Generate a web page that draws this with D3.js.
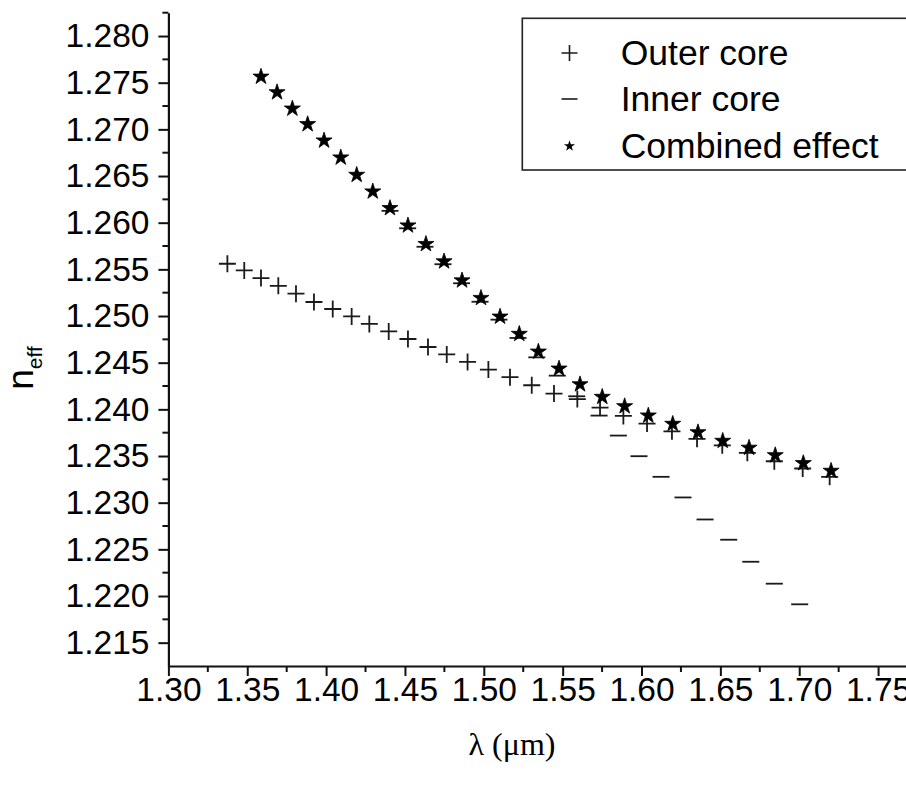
<!DOCTYPE html>
<html>
<head>
<meta charset="utf-8">
<script src="https://cdn.jsdelivr.net/npm/d3@7"></script>
<style>
  html, body { margin: 0; padding: 0; background: #fff; }
  svg { display: block; }
</style>
</head>
<body>
<svg id="chart" width="906" height="787"></svg>
<script>
// ---------- data ----------
const outerX = [1.3374,1.3481,1.3587,1.3697,1.3809,1.3923,1.4042,1.4162,1.4274,1.4397,1.4519,1.4646,1.4765,1.4897,1.5029,1.5166,1.5304,1.5445,1.5593,1.5737,1.5885,1.6035,1.6193,1.6352,1.6512,1.6671,1.6842,1.7022,1.7193];
const outerY = [1.25560,1.25488,1.25407,1.25324,1.25239,1.25150,1.25075,1.24996,1.24915,1.24835,1.24754,1.24668,1.24589,1.24508,1.24426,1.24345,1.24258,1.24169,1.24110,1.24019,1.23930,1.23848,1.23765,1.23684,1.23615,1.23534,1.23444,1.23366,1.23277];

const innerX = [1.4405,1.4517,1.4627,1.4741,1.4859,1.4976,1.5096,1.5217,1.5336,1.5466,1.5589,1.5731,1.5853,1.5984,1.6124,1.6263,1.6403,1.6553,1.6693,1.6842,1.7003];
const innerY = [1.26127,1.25940,1.25742,1.25555,1.25351,1.25153,1.24961,1.24765,1.24557,1.24361,1.24140,1.23933,1.23719,1.23498,1.23277,1.23056,1.22820,1.22603,1.22367,1.22132,1.21911];

const combX = [1.3587,1.3689,1.3786,1.3883,1.3987,1.4093,1.4194,1.4296,1.4405,1.4519,1.4633,1.4748,1.4862,1.4982,1.5103,1.5225,1.5346,1.5477,1.5610,1.5751,1.5893,1.6043,1.6198,1.6358,1.6515,1.6682,1.6848,1.7026,1.7202];
const combY = [1.27564,1.27397,1.27222,1.27055,1.26880,1.26698,1.26512,1.26334,1.26156,1.25970,1.25771,1.25585,1.25381,1.25193,1.24993,1.24808,1.24618,1.24436,1.24268,1.24133,1.24033,1.23933,1.23844,1.23754,1.23662,1.23588,1.23508,1.23423,1.23341];

const xTicks = [1.30,1.35,1.40,1.45,1.50,1.55,1.60,1.65,1.70,1.75];
const yTicks = [1.215,1.220,1.225,1.230,1.235,1.240,1.245,1.250,1.255,1.260,1.265,1.270,1.275,1.280];
const legendLabels = ["Outer core","Inner core","Combined effect"];

// ---------- chart ----------
const svg = d3.select("#chart");
const x = d3.scaleLinear().domain([1.30, 1.775]).range([168.4, 917.5]);
const y = d3.scaleLinear().domain([1.2125, 1.2825]).range([666, 12.7]);

const font = "'Liberation Sans', Arial, sans-serif";
const ink = "#111";

const xMinor = d3.range(1.325, 1.776, 0.05);
const yMinor = d3.range(1.2175, 1.283, 0.005);

const gx = svg.append("g").attr("transform", "translate(0,666)");
gx.call(d3.axisBottom(x).tickValues(xTicks).tickFormat(d3.format(".2f")).tickSize(10).tickPadding(1).tickSizeOuter(0));
gx.append("g").selectAll("line").data(xMinor).join("line")
  .attr("x1", d => x(d)).attr("x2", d => x(d)).attr("y1", 0).attr("y2", 6)
  .attr("stroke", ink).attr("stroke-width", 2);

const gy = svg.append("g").attr("transform", "translate(168.4,0)");
gy.call(d3.axisLeft(y).tickValues(yTicks).tickFormat(d3.format(".3f")).tickSize(10).tickPadding(9).tickSizeOuter(0));
gy.append("g").selectAll("line").data(yMinor).join("line")
  .attr("x1", 0).attr("x2", -6).attr("y1", d => y(d)).attr("y2", d => y(d))
  .attr("stroke", ink).attr("stroke-width", 2);

[gx, gy].forEach(g => {
  g.select(".domain").attr("stroke", ink).attr("stroke-width", 2.2);
  g.selectAll(".tick line").attr("stroke", ink).attr("stroke-width", 2);
  g.selectAll(".tick text").attr("fill", "#000").style("font-family", font).style("font-size", "33.5px");
});

// axis titles
svg.append("text")
  .attr("x", 512).attr("y", 755)
  .attr("text-anchor", "middle")
  .style("font-family", "'Liberation Serif', 'Times New Roman', serif")
  .style("font-size", "32px").attr("fill", "#000")
  .text("λ (μm)");

const yt = svg.append("text")
  .attr("transform", "translate(33,368) rotate(-90)")
  .attr("text-anchor", "middle")
  .style("font-family", font).style("font-size", "37px").attr("fill", "#000");
yt.append("tspan").text("n");
yt.append("tspan").attr("dy", 9).style("font-size", "21px").text("eff");

// ---------- markers ----------
const markSize = 17;
function plusPath(h) { return `M${-h},0H${h}M0,${-h}V${h}`; }
function minusPath(h) { return `M${-h},0H${h}`; }

const outer = outerX.map((v,i)=>({x:v, y:outerY[i]}));
const inner = innerX.map((v,i)=>({x:v, y:innerY[i]}));
const comb = combX.map((v,i)=>({x:v, y:combY[i]}));

svg.append("g").selectAll("path").data(inner).join("path")
  .attr("transform", d => `translate(${x(d.x)},${y(d.y)})`)
  .attr("d", minusPath(markSize/2))
  .attr("stroke", "#1a1a1a").attr("stroke-width", 1.8).attr("fill", "none");

svg.append("g").selectAll("path").data(outer).join("path")
  .attr("transform", d => `translate(${x(d.x)},${y(d.y)})`)
  .attr("d", plusPath(markSize/2))
  .attr("stroke", "#1a1a1a").attr("stroke-width", 1.8).attr("fill", "none");

const star = d3.symbol().type(d3.symbolStar);
svg.append("g").selectAll("path").data(comb).join("path")
  .attr("transform", d => `translate(${x(d.x)},${y(d.y)})`)
  .attr("d", star.size(80)())
  .attr("fill", "#000").attr("stroke", "#000").attr("stroke-width", 0.8);

// ---------- legend ----------
const lg = svg.append("g");
lg.append("rect").attr("x", 522.3).attr("y", 18.3).attr("width", 420).attr("height", 151.7)
  .attr("fill", "#fff").attr("stroke", "#222").attr("stroke-width", 1.6);
const rowY = [53, 99, 146];
lg.append("path").attr("transform", `translate(569.5,${rowY[0]})`).attr("d", plusPath(8))
  .attr("stroke", "#1a1a1a").attr("stroke-width", 1.6).attr("fill", "none");
lg.append("path").attr("transform", `translate(569.5,${rowY[1]})`).attr("d", minusPath(8))
  .attr("stroke", "#1a1a1a").attr("stroke-width", 1.6).attr("fill", "none");
lg.append("path").attr("transform", `translate(569.5,${rowY[2]})`).attr("d", star.size(38)())
  .attr("fill", "#000");
lg.selectAll("text.lbl").data(legendLabels).join("text")
  .attr("class", "lbl")
  .attr("x", 620.7).attr("y", (d,i) => rowY[i] + 12)
  .style("font-family", font).style("font-size", "35.5px").attr("fill", "#000")
  .text(d => d);
</script>
</body>
</html>
